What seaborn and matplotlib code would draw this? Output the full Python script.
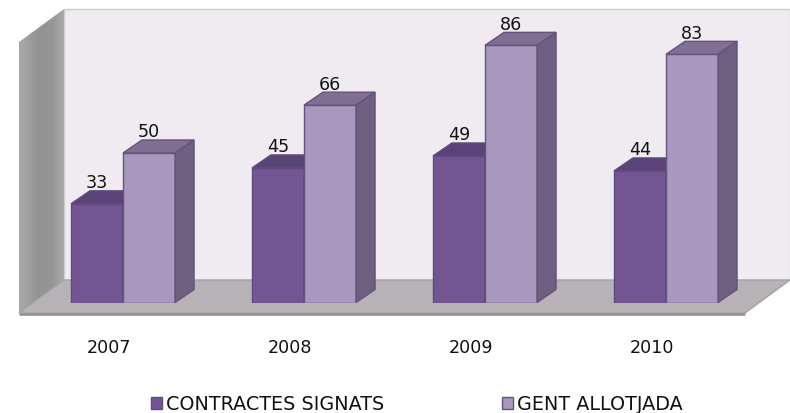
import numpy as np
import pandas as pd
import matplotlib
matplotlib.use("Agg")
import matplotlib.pyplot as plt
from matplotlib.patches import Polygon, Rectangle
from matplotlib.transforms import ScaledTranslation
import seaborn as sns

years = ["2007", "2008", "2009", "2010"]
contractes = [33, 45, 49, 44]
gent = [50, 66, 86, 83]
series_names = ["CONTRACTES SIGNATS", "GENT ALLOTJADA"]

W, H = 790, 414
DPI = 100

sns.set_theme(style="white")
plt.rcParams["font.family"] = ["DejaVu Sans"]

df = pd.DataFrame({
    "year": years * 2,
    "value": contractes + gent,
    "series": [series_names[0]] * 4 + [series_names[1]] * 4,
})

fig = plt.figure(figsize=(W / DPI, H / DPI), dpi=DPI, facecolor="white")

# Room of the 3D chart: back wall, side wall and floor, in pixel coordinates
room = fig.add_axes([0, 0, 1, 1], zorder=0)
room.set_xlim(0, W)
room.set_ylim(H, 0)
room.axis("off")
room.add_patch(Polygon([(64, 10), (790, 10), (790, 281), (64, 281)],
                       fc="#EFEBF1", ec="#CFCDD0", lw=1))
wall = Polygon([(19, 43), (64, 10), (64, 281), (19, 314)], fc="none", ec="none")
room.add_patch(wall)
shade = room.imshow(
    np.array([[0.65, 0.61, 0.58, 0.58, 0.59, 0.64]]),
    extent=(19, 64, 314, 10), aspect="auto", cmap="gray", vmin=0, vmax=1,
    interpolation="bilinear",
)
shade.set_clip_path(wall)
room.set_xlim(0, W)
room.set_ylim(H, 0)
room.add_patch(Polygon([(64, 281), (790, 281), (745, 314), (19, 314)],
                       fc="#B6B2B5", ec="#A5A2A5", lw=1))
room.plot([19, 745], [314.5, 314.5], color="#8F8C90", lw=1.8, solid_capstyle="butt")

# Bars on a transparent axes lined up with the front of the floor
LEFT, RIGHT, TOP, BASE = 20, 745, 10, 303.5
CAT_PX, VAL_PX = 181.0, 2.99
ax = fig.add_axes([LEFT / W, 1 - BASE / H, (RIGHT - LEFT) / W, (BASE - TOP) / H], zorder=1)
ax.patch.set_alpha(0)

front = ["#725592", "#A898BD"]
tops = ["#5A4377", "#7F6F92"]
sides = ["#5A4377", "#6D6080"]
edges = ["#5F4B7B", "#65527F"]

sns.barplot(data=df, x="year", y="value", hue="series", hue_order=series_names,
            palette=front, width=0.575, gap=0, saturation=1, ax=ax,
            edgecolor=edges[0], linewidth=1, legend=True)

ax.set_xlim((LEFT - 123) / CAT_PX, (RIGHT - 123) / CAT_PX)
ax.set_ylim(0, (BASE - TOP) / VAL_PX)
ax.set_xlabel("")
ax.set_ylabel("")
ax.set_yticks([])
sns.despine(ax=ax, left=True, bottom=True, top=True, right=True)

# Depth faces worked out from each bar's own rectangle
dx, dy = 19 / CAT_PX, 13 / VAL_PX
for i, container in enumerate(ax.containers):
    for bar in container:
        bar.set_zorder(3 + 2 * i)
        bar.set_edgecolor(edges[i])
        x0, w, h = bar.get_x(), bar.get_width(), bar.get_height()
        ax.add_patch(Polygon([(x0, h), (x0 + w, h), (x0 + w + dx, h + dy), (x0 + dx, h + dy)],
                             fc=tops[i], ec=edges[i], lw=1, zorder=3 + 2 * i, clip_on=False))
        ax.add_patch(Polygon([(x0 + w, 0), (x0 + w + dx, dy), (x0 + w + dx, h + dy), (x0 + w, h)],
                             fc=sides[i], ec=edges[i], lw=1, zorder=3 + 2 * i, clip_on=False))
    ax.bar_label(container, padding=9, fontsize=12.6, color="#111111", zorder=10, clip_on=False)

# Year labels sit slightly left of each group and well below the floor
ax.set_xticks(range(len(years)), years)
ax.tick_params(axis="x", length=0, pad=25.5, labelsize=12.6, labelcolor="#111111")
shift = ScaledTranslation(-14 / DPI, 0, fig.dpi_scale_trans)
for label in ax.get_xticklabels():
    label.set_transform(label.get_transform() + shift)

# Legend along the bottom edge
_, labels = ax.get_legend_handles_labels()
handles = [Rectangle((0, 0), 1, 1, fc=front[i], ec=edges[i]) for i in range(2)]
ax.legend(handles, labels, loc="center", bbox_to_anchor=(416.5 / W, 1 - 405 / H),
          bbox_transform=fig.transFigure, ncol=2, frameon=False, fontsize=13.8,
          handlelength=0.58, handleheight=0.6, handletextpad=0.2, columnspacing=6.15,
          borderpad=0, borderaxespad=0, labelcolor="#111111")

fig.savefig("out.png", dpi=DPI)
